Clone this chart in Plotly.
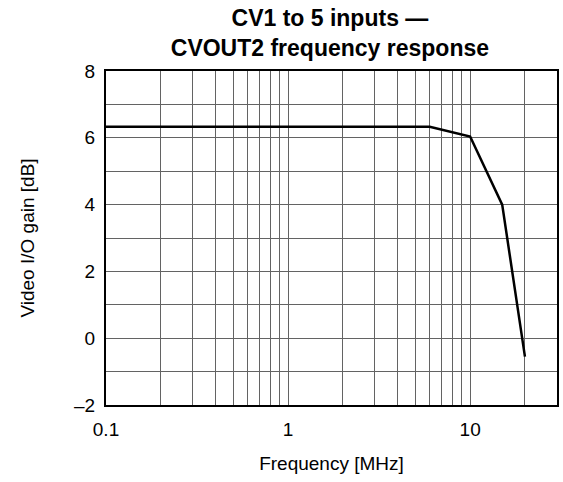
import plotly.graph_objects as go

# Frequency response of CVOUT2 for CV1..CV5 inputs
freq_mhz = [0.1, 6, 10, 15, 20]
gain_db = [6.33, 6.33, 6.04, 4.0, -0.55]

x_tick_vals = [0.1, 1, 10]
x_tick_text = ["0.1", "1", "10"]
y_tick_vals = [-2, 0, 2, 4, 6, 8]
y_tick_text = ["–2", "0", "2", "4", "6", "8"]

FONT = "Liberation Sans, Arial, sans-serif"
GRID = "#636363"

fig = go.Figure()
fig.add_trace(go.Scatter(
    x=freq_mhz, y=gain_db, mode="lines",
    line=dict(color="black", width=2.5),
    showlegend=False, hoverinfo="skip",
))

fig.update_layout(
    width=563, height=482,
    margin=dict(l=106, r=4, t=71, b=77),
    paper_bgcolor="white", plot_bgcolor="white",
    font=dict(family=FONT, size=19, color="black"),
    title=dict(
        text="<b>CV1 to 5 inputs —<br>CVOUT2 frequency response</b>",
        x=0.586, xanchor="center", y=0.946, yanchor="middle",
        font=dict(family=FONT, size=23, color="black"),
    ),
)

fig.update_xaxes(
    type="log", range=[-1, 1.4771],
    tickvals=x_tick_vals, ticktext=x_tick_text,
    showgrid=True, gridcolor=GRID, gridwidth=1,
    minor=dict(dtick="D1", showgrid=True, gridcolor=GRID, gridwidth=1, ticks=""),
    showline=True, linecolor="black", linewidth=2, mirror=True,
    ticks="", ticklabelstandoff=6,
    title=dict(text="Frequency [MHz]", standoff=18, font=dict(size=19)),
    zeroline=False,
)

fig.update_yaxes(
    range=[-2, 8],
    tickvals=y_tick_vals, ticktext=y_tick_text,
    showgrid=True, gridcolor=GRID, gridwidth=1,
    minor=dict(dtick=1, showgrid=True, gridcolor=GRID, gridwidth=1, ticks=""),
    showline=True, linecolor="black", linewidth=2, mirror=True,
    ticks="", ticklabelstandoff=5,
    title=dict(text="Video I/O gain [dB]", standoff=34, font=dict(size=19)),
    zeroline=False,
)

fig.write_html("out.html")
